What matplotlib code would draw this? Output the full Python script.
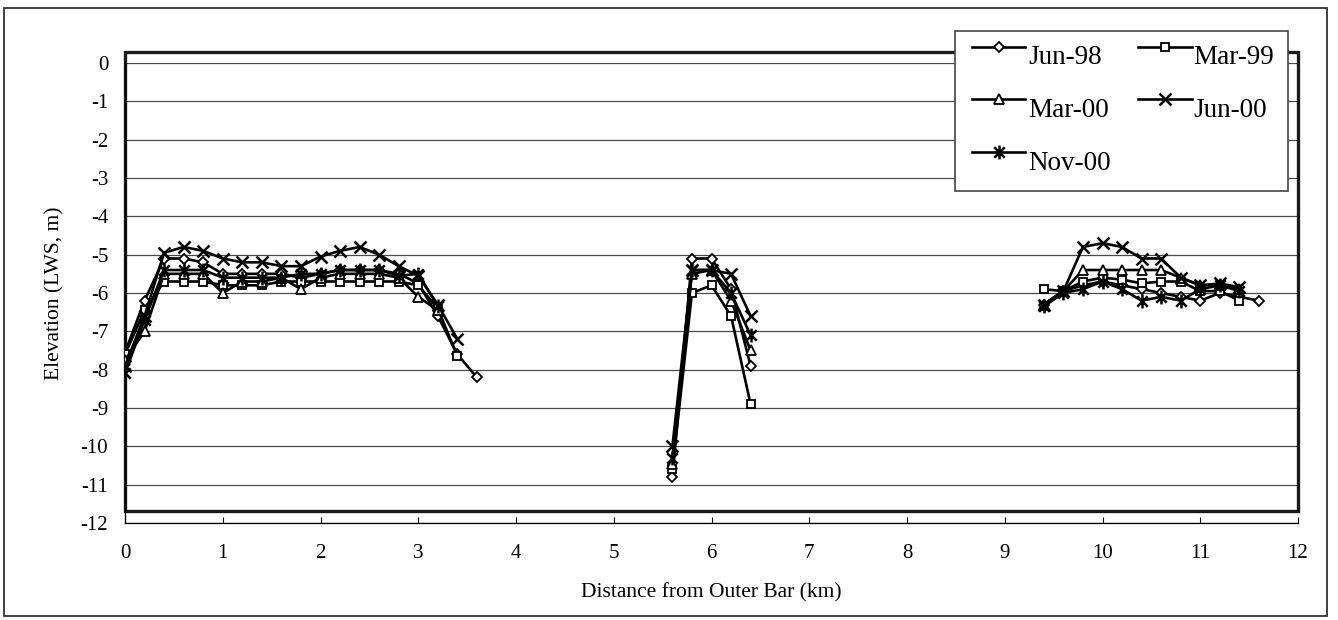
import matplotlib.pyplot as plt
import numpy as np
from matplotlib.path import Path
from matplotlib.patches import Rectangle
from matplotlib.lines import Line2D

plt.rcParams['font.family'] = ['Liberation Serif', 'DejaVu Serif']
plt.rcParams['axes.unicode_minus'] = False

W, H = 1338, 620

survey_names = ['Jun-98', 'Mar-99', 'Mar-00', 'Jun-00', 'Nov-00']

# distance from outer bar (km); None splits the three surveyed reaches
distance = [0.0, 0.2, 0.4, 0.6, 0.8, 1.0, 1.2, 1.4, 1.6, 1.8, 2.0, 2.2, 2.4, 2.6, 2.8, 3.0, 3.2, 3.4, 3.6,
            None,
            5.6, 5.8, 6.0, 6.2, 6.4,
            None,
            9.4, 9.6, 9.8, 10.0, 10.2, 10.4, 10.6, 10.8, 11.0, 11.2, 11.4, 11.6]

# elevation (LWS, m)
jun98 = [-7.55, -6.2, -5.1, -5.1, -5.2, -5.5, -5.5, -5.5, -5.5, -5.6, -5.5, -5.4, -5.4, -5.4, -5.5, -5.75, -6.6, -7.6, -8.2,
         None,
         -10.8, -5.1, -5.1, -5.9, -7.9,
         None,
         -6.3, -5.95, -5.8, -5.7, -5.8, -5.9, -6.0, -6.1, -6.2, -6.0, -6.1, -6.2]
mar99 = [-7.6, -6.45, -5.7, -5.7, -5.7, -5.8, -5.8, -5.8, -5.7, -5.7, -5.7, -5.7, -5.7, -5.7, -5.7, -5.8, -6.4, -7.65, None,
         None,
         -10.6, -6.0, -5.8, -6.6, -8.9,
         None,
         -5.9, -5.95, -5.7, -5.6, -5.65, -5.75, -5.7, -5.7, -5.95, -5.95, -6.2, None]
mar00 = [-7.75, -7.0, -5.5, -5.5, -5.5, -6.0, -5.7, -5.7, -5.6, -5.9, -5.6, -5.5, -5.5, -5.5, -5.6, -6.1, -6.45, None, None,
         None,
         -10.45, -5.5, -5.4, -6.2, -7.5,
         None,
         -6.3, -5.95, -5.4, -5.4, -5.4, -5.4, -5.4, -5.6, -5.8, -5.8, -5.9, None]
jun00 = [-7.9, -6.6, -4.95, -4.8, -4.9, -5.1, -5.2, -5.2, -5.3, -5.3, -5.05, -4.9, -4.8, -5.0, -5.3, -5.55, -6.3, -7.2, None,
         None,
         -10.0, -5.4, -5.4, -5.5, -6.6,
         None,
         -6.3, -5.95, -4.8, -4.7, -4.8, -5.1, -5.1, -5.6, -5.8, -5.75, -5.85, None]
nov00 = [-8.1, -6.7, -5.4, -5.4, -5.4, -5.6, -5.6, -5.6, -5.6, -5.5, -5.5, -5.4, -5.4, -5.4, -5.55, -5.5, -6.35, None, None,
         None,
         -10.3, -5.4, -5.4, -6.0, -7.1,
         None,
         -6.35, -6.0, -5.9, -5.7, -5.9, -6.2, -6.1, -6.2, -5.9, -5.8, -5.95, None]

series = [jun98, mar99, mar00, jun00, nov00]

# excel style asterisk: x with a vertical bar
star = Path([(0, -1), (0, 1), (-0.75, -0.75), (0.75, 0.75), (-0.75, 0.75), (0.75, -0.75)],
            [Path.MOVETO, Path.LINETO, Path.MOVETO, Path.LINETO, Path.MOVETO, Path.LINETO])
styles = [dict(marker='D', ms=5, mfc='white'),
          dict(marker='s', ms=5.5, mfc='white'),
          dict(marker='^', ms=6.5, mfc='white'),
          dict(marker='x', ms=9, mew=1.8),
          dict(marker=star, ms=10, mew=1.8)]


def px(x, y):
    return x / W, 1 - y / H


fig = plt.figure(figsize=(W / 100, H / 100), dpi=100)
ax = fig.add_axes([125 / W, 1 - 523 / H, 1173 / W, 460 / H])

x = np.array(distance, dtype=float)
for vals, st in zip(series, styles):
    y = np.array(vals, dtype=float)
    kw = dict(color='black', lw=1.9, mec='black', mew=1.3)
    kw.update(st)
    ax.plot(x, y, zorder=3, **kw)

ax.set_xlim(0, 12)
ax.set_ylim(-12, 0)
ax.set_xticks(range(0, 13))
ax.set_yticks(range(-12, 1))
ax.yaxis.grid(True, color='#4a4a4a', lw=0.9)
ax.set_axisbelow(True)
for s in ['top', 'right']:
    ax.spines[s].set_visible(False)
ax.spines['bottom'].set_linewidth(0.9)
ax.spines['left'].set_linewidth(0.9)
ax.tick_params(axis='x', direction='in', length=4.5, width=0.8, pad=15, labelsize=15)
ax.tick_params(axis='y', length=0, pad=12, labelsize=15)

ax.set_xlabel('Distance from Outer Bar (km)', fontsize=15.5)
ax.xaxis.set_label_coords(0.5, -70 / 460)
ax.xaxis.label.set_verticalalignment('center')
ax.set_ylabel('Elevation (LWS, m)', fontsize=15.5)
ax.yaxis.set_label_coords(-70 / 1173, 0.5)
ax.yaxis.label.set_verticalalignment('center')

# thick plot-area frame, drawn slightly above the data area
ax.add_patch(Rectangle((0, 12 / 460), 1, 459 / 460, transform=ax.transAxes, fill=False,
                       lw=2.4, ec='#1a1a1a', clip_on=False, zorder=2))

# outer chart border
fig.add_artist(Rectangle(px(4, 616), 1323 / W, 608 / H, transform=fig.transFigure,
                         fill=False, lw=1.3, ec='#333333'))

# legend box
fig.add_artist(Rectangle(px(955, 191), 333 / W, 160 / H, transform=fig.transFigure,
                         fc='white', ec='#444444', lw=1.2, zorder=5))
cols = [(972, 1025, 1028), (1138, 1192, 1193)]
rows = [47, 99, 152]
for i, (name, st) in enumerate(zip(survey_names, styles)):
    x0, x1, tx = cols[i % 2]
    ly = rows[i // 2]
    kw = dict(color='black', lw=1.9, mec='black', mew=1.3)
    kw.update(st)
    xs = [px(x0, ly)[0], px((x0 + x1) / 2, ly)[0], px(x1, ly)[0]]
    ln = Line2D(xs, [px(0, ly)[1]] * 3, transform=fig.transFigure, markevery=[1], zorder=6, **kw)
    fig.add_artist(ln)
    fig.text(*px(tx, ly + 11), name, fontsize=19.5, va='center', ha='left', zorder=6)

fig.savefig('out.png', dpi=100)
